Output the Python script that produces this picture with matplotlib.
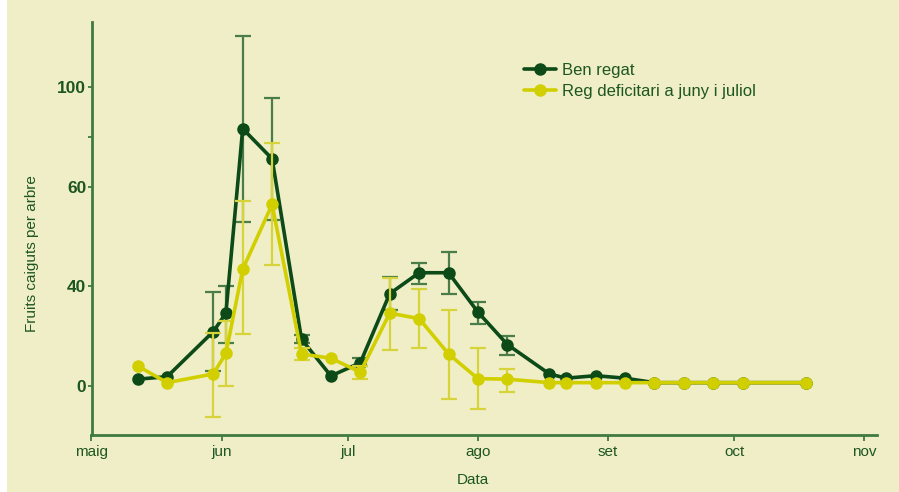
import datetime as dt
import numpy as np
import matplotlib
matplotlib.use("Agg")
import matplotlib.pyplot as plt
from matplotlib.patches import Rectangle

# ---- data -----------------------------------------------------------------
dates = [
    "2009-05-12", "2009-05-19", "2009-05-30", "2009-06-02", "2009-06-06",
    "2009-06-13", "2009-06-20", "2009-06-27", "2009-07-04", "2009-07-11",
    "2009-07-18", "2009-07-25", "2009-08-01", "2009-08-08", "2009-08-18",
    "2009-08-22", "2009-08-29", "2009-09-05", "2009-09-12", "2009-09-19",
    "2009-09-26", "2009-10-03", "2009-10-18",
]

ben_regat = [2.7, 3.7, 21.8, 29.2, 83.2, 71.1, 18.7, 4.0, 9.3, 37.0, 42.7, 42.7,
             29.6, 16.6, 4.8, 3.1, 4.1, 3.1, 1.3, 1.3, 1.3, 1.3, 1.3]
ben_regat_low = [np.nan, np.nan, 6.0, 17.1, 52.8, 53.2, 17.3, np.nan, 8.0, 30.6,
                 40.4, 36.9, 25.0, 12.3] + [np.nan] * 9
ben_regat_high = [np.nan, np.nan, 37.5, 40.1, 120.5, 95.7, 20.5, np.nan, 11.2, 41.8,
                  44.7, 46.9, 33.8, 20.1] + [np.nan] * 9

reg_deficitari = [8.0, 1.3, 4.8, 13.1, 43.4, 56.4, 12.8, 11.1, 5.5, 29.2, 27.0, 12.8,
                  2.9, 2.7, 1.3, 1.3, 1.3, 1.3, 1.3, 1.3, 1.3, 1.3, 1.3]
reg_deficitari_low = [np.nan, np.nan, -12.3, 0.1, 20.9, 44.3, 10.4, np.nan, 2.7, 14.4,
                      15.2, -5.1, -9.3, -2.4] + [np.nan] * 9
reg_deficitari_high = [np.nan, np.nan, 21.1, 26.1, 57.0, 77.4, 15.2, np.nan, 8.0, 41.6,
                       38.9, 30.4, 15.4, 6.8] + [np.nan] * 9

series_names = ["Ben regat", "Reg deficitari a juny i juliol"]
month_labels = ["maig", "jun", "jul", "ago", "set", "oct", "nov"]
y_ticks = [0, 40, 60, 100]

# ---- styling ---------------------------------------------------------------
BG = "#F0EEC6"
DARK = "#0C4A18"
DARK_ERR = "#4A7D4A"
YELLOW = "#D1CF00"
YELLOW_ERR = "#D6D43A"
AXIS = "#3F7A40"
TEXT = "#1D5622"

plt.rcParams["font.family"] = ["Liberation Sans", "DejaVu Sans"]

# Piecewise value axis: 0-40, 40-60 and 60-100 occupy equal lengths
def fwd(v):
    v = np.asarray(v, dtype=float)
    return np.where(v < 40, v / 40.0,
                    np.where(v < 60, 1 + (v - 40) / 20.0, 2 + (v - 60) / 40.0))

def inv(s):
    s = np.asarray(s, dtype=float)
    return np.where(s < 1, 40.0 * s,
                    np.where(s < 2, 40 + 20.0 * (s - 1), 60 + 40.0 * (s - 2)))

W, H = 899, 492
fig = plt.figure(figsize=(W / 100, H / 100), dpi=100)
fig.patch.set_facecolor("white")
fig.add_artist(Rectangle((7 / W, 0), 1 - 7 / W, 1, transform=fig.transFigure,
                         facecolor=BG, edgecolor="none", zorder=0))

ax = fig.add_axes([91.5 / W, 1 - 435 / H, (877 - 91.5) / W, (435 - 22) / H])
ax.set_facecolor("none")
ax.set_yscale("function", functions=(fwd, inv))

x = [dt.datetime.strptime(d, "%Y-%m-%d") for d in dates]

def draw(vals, low, high, color, ecolor, label, z):
    vals = np.array(vals, dtype=float)
    low = np.array(low, dtype=float)
    high = np.array(high, dtype=float)
    m = ~np.isnan(low)
    xe = [xi for xi, k in zip(x, m) if k]
    ax.errorbar(xe, vals[m], yerr=[vals[m] - low[m], high[m] - vals[m]],
                fmt="none", ecolor=ecolor, elinewidth=1.6, capsize=6,
                capthick=1.6, zorder=z)
    ax.plot(x, vals, color=color, lw=2.6, marker="o", markersize=8,
            markerfacecolor=color, markeredgecolor=color, label=label,
            zorder=z + 1, solid_capstyle="round")

draw(ben_regat, ben_regat_low, ben_regat_high, DARK, DARK_ERR, series_names[0], 2)
draw(reg_deficitari, reg_deficitari_low, reg_deficitari_high, YELLOW, YELLOW_ERR,
     series_names[1], 4)

ax.set_ylim(-19.7, 126)
ax.set_xlim(dt.datetime(2009, 5, 1), dt.datetime(2009, 11, 4))

month_ticks = [dt.datetime(2009, m, 1) for m in range(5, 12)]
ax.set_xticks(month_ticks)
ax.set_xticklabels(month_labels)
ax.set_yticks(y_ticks + [80])
ax.set_yticklabels([str(t) for t in y_ticks] + [""])

for s in ["top", "right"]:
    ax.spines[s].set_visible(False)
for s in ["left", "bottom"]:
    ax.spines[s].set_color(AXIS)
    ax.spines[s].set_linewidth(2.0)

ax.tick_params(axis="both", colors=AXIS, width=1.3, direction="out")
ax.tick_params(axis="x", labelcolor=TEXT, labelsize=11, pad=2.5, length=4.5)
ax.tick_params(axis="y", labelcolor=TEXT, labelsize=12.5, pad=0.5, length=3.2)
for lab in ax.get_yticklabels():
    lab.set_fontweight("bold")

ax.set_xlabel("Data", color=TEXT, fontsize=11)
ax.xaxis.set_label_coords(0.486, -0.092)
ax.set_ylabel("Fruits caiguts per arbre", color=TEXT, fontsize=11)
ax.yaxis.set_label_coords(-0.067, 0.44)

leg = ax.legend(loc="upper left", bbox_to_anchor=(0.542, 0.917), frameon=False,
                fontsize=12, handlelength=1.95, handletextpad=0.36,
                labelspacing=0.36, borderaxespad=0)
for t in leg.get_texts():
    t.set_color(TEXT)

fig.savefig("out.png", dpi=100, facecolor=fig.get_facecolor())
